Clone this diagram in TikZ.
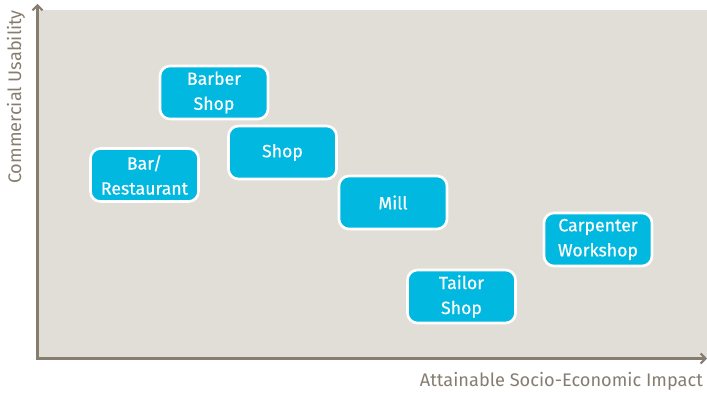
\documentclass[tikz,border=0pt]{standalone}
\usepackage{fontspec}
\setmainfont{Fira Sans}
\newfontfamily\boxfont{Fira Sans}[FakeBold=0.4]
\usetikzlibrary{arrows.meta}
\definecolor{bgc}{HTML}{E1DED8}
\definecolor{axisc}{HTML}{857D70}
\definecolor{boxc}{HTML}{00B8E0}
\tikzset{
  item/.style={draw=white, line width=2.6pt, fill=boxc, rounded corners=10pt,
    minimum width=108pt, minimum height=53pt, text=white, align=center,
    font=\boxfont\fontsize{17.7}{25}\selectfont, inner sep=0pt},
  axisline/.style={draw=axisc, line width=3pt, -{Straight Barb[length=5pt,width=10pt,line width=2pt]}},
  axislabel/.style={text=axisc, font=\fontsize{18.2}{20}\selectfont, inner sep=0pt}
}
\begin{document}
\begin{tikzpicture}[x=1pt,y=-1pt]
\useasboundingbox (0,0) rectangle (707,393);
\fill[bgc] (39,10) rectangle (707,357);
\coordinate (origin) at (37.5,358.5);
\coordinate (ytop) at (37.5,4);
\coordinate (xend) at (707,358.5);
\draw[axisline] ([yshift=-1.5pt]origin) -- (ytop);
\draw[axisline] ([xshift=-1.5pt]origin) -- (xend);
\node[axislabel, rotate=90] (ylab) at (16,97) {Commercial Usability};
\node[axislabel, anchor=east] (xlab) at (703,381) {Attainable Socio-Economic Impact};
\node[item] (barber) at (214,92.5) {Barber\\Shop};
\node[item] (shop) at (282.5,152.5) {Shop};
\node[item] (bar) at (144.5,175) {Bar/\\Restaurant};
\node[item] (mill) at (393,202.5) {Mill};
\node[item] (carp) at (598,239.5) {Carpenter\\Workshop};
\node[item] (tailor) at (461.5,296.5) {Tailor\\Shop};
\end{tikzpicture}
\end{document}
